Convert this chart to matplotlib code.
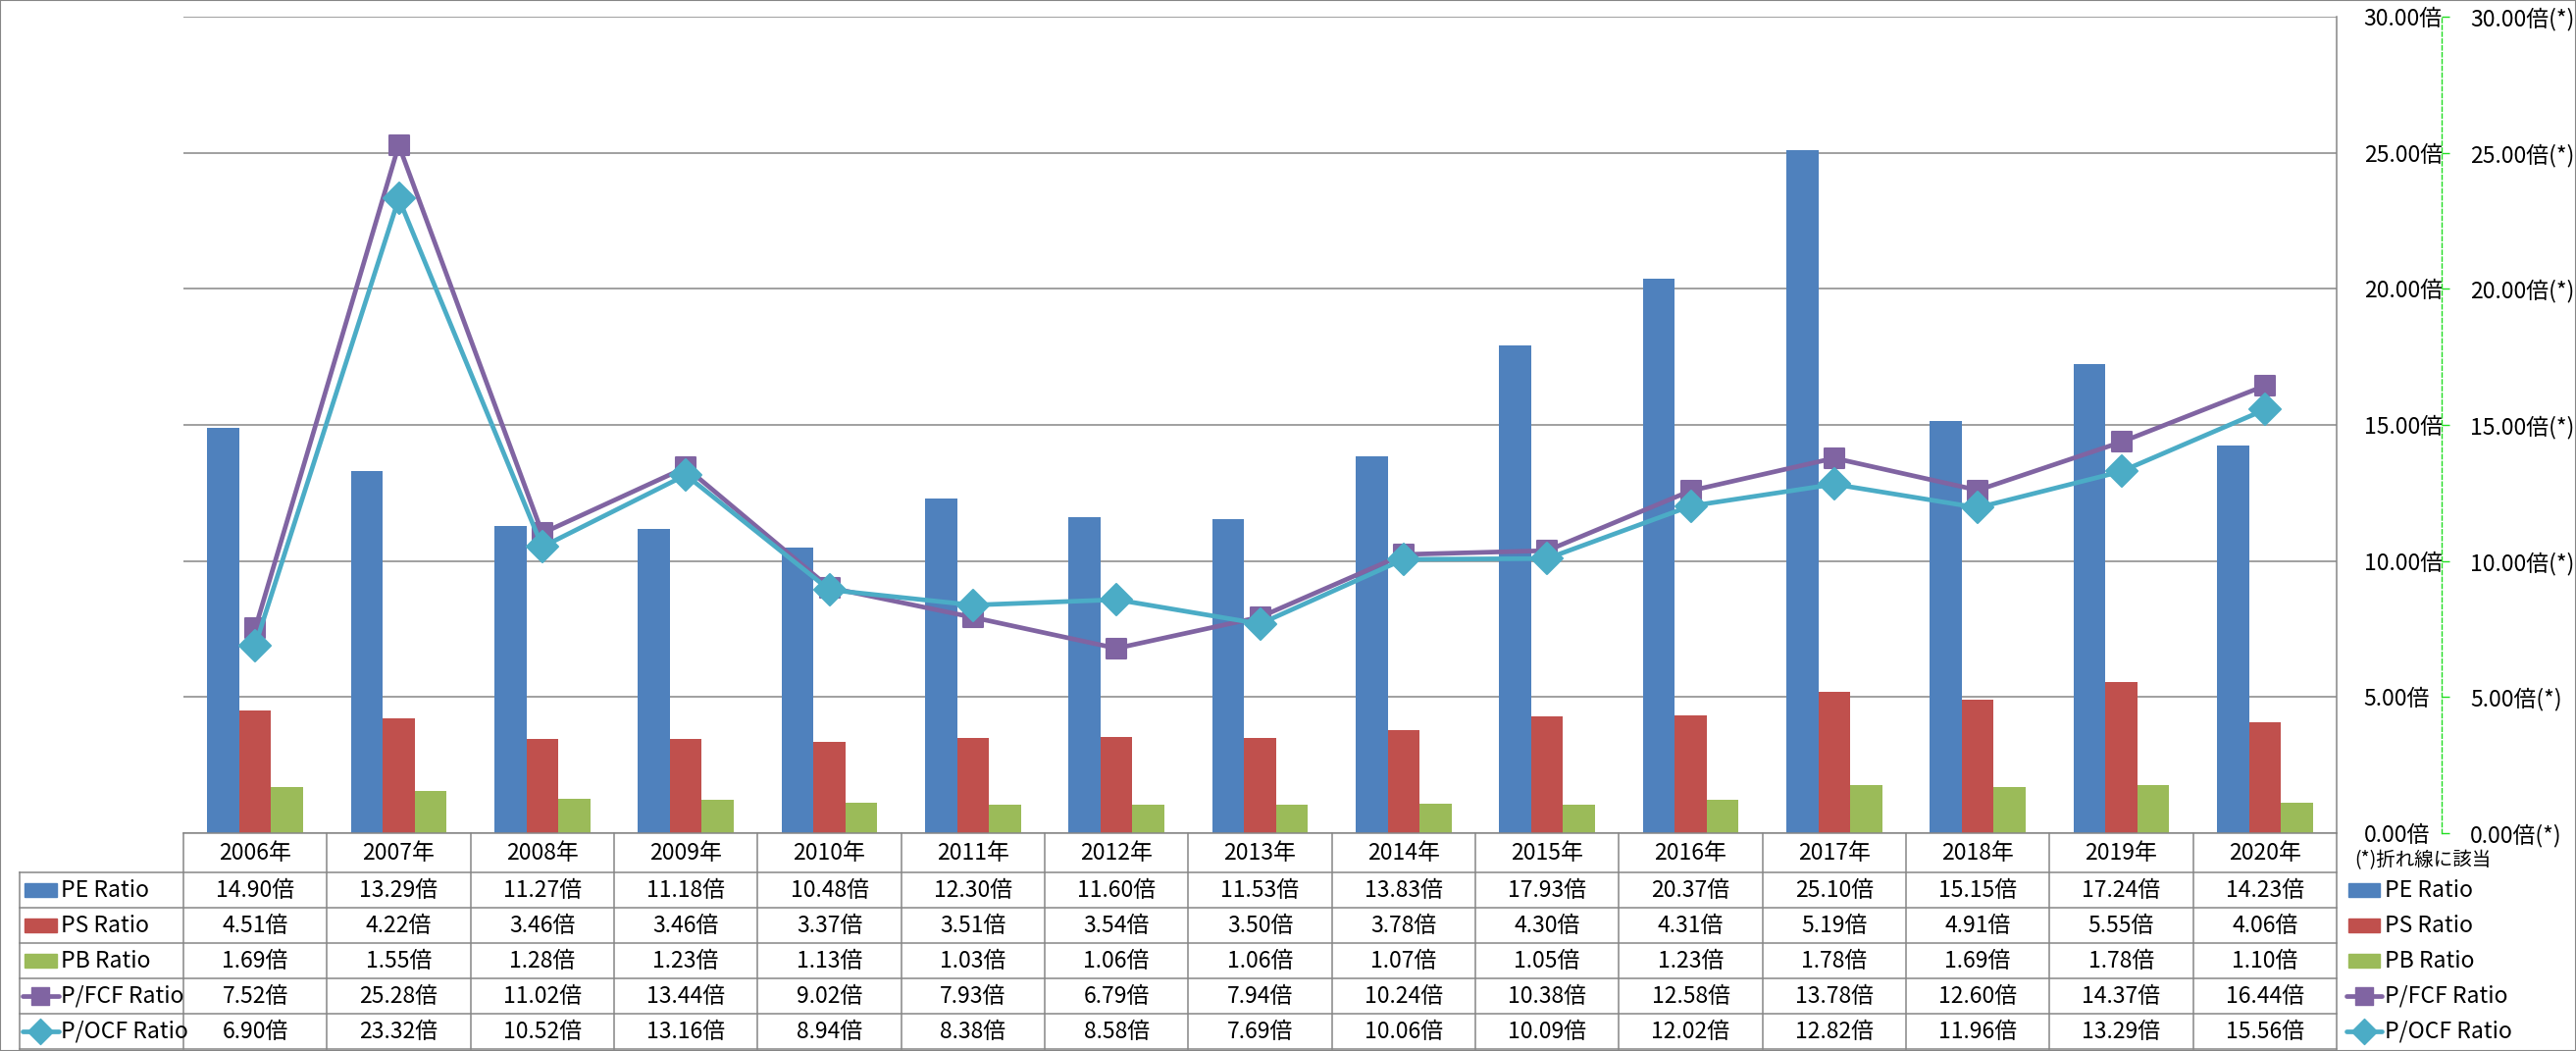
import matplotlib
matplotlib.use("Agg")
import matplotlib.pyplot as plt
from matplotlib.markers import MarkerStyle
from matplotlib.patches import Rectangle
from matplotlib.ticker import FuncFormatter, MultipleLocator

plt.rcParams['font.family'] = ['Noto Sans CJK JP', 'DejaVu Sans']

years = ["2006年", "2007年", "2008年", "2009年", "2010年", "2011年", "2012年", "2013年",
         "2014年", "2015年", "2016年", "2017年", "2018年", "2019年", "2020年"]
pe = [14.90, 13.29, 11.27, 11.18, 10.48, 12.30, 11.60, 11.53, 13.83, 17.93, 20.37, 25.10, 15.15, 17.24, 14.23]
ps = [4.51, 4.22, 3.46, 3.46, 3.37, 3.51, 3.54, 3.50, 3.78, 4.30, 4.31, 5.19, 4.91, 5.55, 4.06]
pb = [1.69, 1.55, 1.28, 1.23, 1.13, 1.03, 1.06, 1.06, 1.07, 1.05, 1.23, 1.78, 1.69, 1.78, 1.10]
pfcf = [7.52, 25.28, 11.02, 13.44, 9.02, 7.93, 6.79, 7.94, 10.24, 10.38, 12.58, 13.78, 12.60, 14.37, 16.44]
pocf = [6.90, 23.32, 10.52, 13.16, 8.94, 8.38, 8.58, 7.69, 10.06, 10.09, 12.02, 12.82, 11.96, 13.29, 15.56]

bar_series = [("PE Ratio", pe, "#4F81BD"), ("PS Ratio", ps, "#C0504D"), ("PB Ratio", pb, "#9BBB59")]
line_series = [("P/FCF Ratio", pfcf, "#8064A2", "s", 15), ("P/OCF Ratio", pocf, "#4BACC6", "D", 15)]

W, H = 2626, 1071
GRID = "#868686"
FS = 16.5

fig = plt.figure(figsize=(W / 100, H / 100), dpi=100)
fig.patches.append(Rectangle((0, 0), 1, 1, transform=fig.transFigure, fill=False,
                             edgecolor=GRID, lw=1.5))

ax = fig.add_axes([187 / W, (H - 849) / H, 2195 / W, 832 / H])
x = list(range(len(years)))
bw = 0.222
for k, (name, vals, col) in enumerate(bar_series):
    ax.bar([i + (k - 1) * bw for i in x], vals, width=bw, color=col, zorder=2)

ax2 = ax.twinx()
for name, vals, col, mk, ms in line_series:
    ax2.plot(x, vals, color=col, lw=3.4, marker=MarkerStyle(mk, joinstyle="round"),
             ms=ms if mk == "s" else ms + 1, mec=col, mew=1.5, zorder=3)

ax.set_xlim(-0.5, len(years) - 0.5)
ax.set_ylim(0, 30)
ax.yaxis.set_major_locator(MultipleLocator(5))
ax.yaxis.tick_right()
ax.yaxis.set_label_position("right")
ax.yaxis.set_major_formatter(FuncFormatter(lambda v, p: f"{v:.2f}倍"))
ax.tick_params(axis="y", length=0, pad=20, labelsize=FS)
ax.set_xticks([])
ax.grid(axis="y", color=GRID, lw=1.1, zorder=0)
for s in ["left", "top", "bottom"]:
    ax.spines[s].set_visible(False)
ax.spines["right"].set_color(GRID)
ax.spines["right"].set_linewidth(1.1)

ax2.set_ylim(0, 30)
ax2.yaxis.set_major_locator(MultipleLocator(5))
ax2.yaxis.set_major_formatter(FuncFormatter(lambda v, p: f"{v:.2f}倍(*)"))
ax2.spines["right"].set_position(("axes", 2302 / 2195))
ax2.spines["right"].set_color("#22DD22")
ax2.spines["right"].set_linestyle((0, (3, 2)))
ax2.spines["right"].set_linewidth(1)
for s in ["left", "top", "bottom"]:
    ax2.spines[s].set_visible(False)
ax2.tick_params(axis="y", direction="out", length=6, width=1, color="#22DD22",
                pad=15, labelsize=FS)

# data table below the plot
tax = fig.add_axes([187 / W, 0, 2195 / W, 222 / H])
tax.set_xlim(-0.5, len(years) - 0.5)
tax.set_ylim(H, 849)
tax.axis("off")

def px2x(px):
    return (px - 187) / 146.33 - 0.5

rows_y = [849, 889, 925, 961, 997, 1033, 1069]
tax.plot([-0.5, len(years) - 0.5], [849, 849], color=GRID, lw=1.1, clip_on=False)
for yy in rows_y[1:]:
    tax.plot([px2x(20), len(years) - 0.5], [yy, yy], color=GRID, lw=1.1, clip_on=False)
for i in range(len(years) + 1):
    tax.plot([i - 0.5, i - 0.5], [849, 1069], color=GRID, lw=1.1, clip_on=False)
tax.plot([px2x(20), px2x(20)], [889, 1069], color=GRID, lw=1.1, clip_on=False)

for i, yr in enumerate(years):
    tax.text(i, 869, yr, ha="center", va="center", fontsize=FS)

row_data = [(n, v, c, None, None) for n, v, c in bar_series] + list(line_series)
for r, (name, vals, col, mk, ms) in enumerate(row_data):
    yc = (rows_y[r + 1] + rows_y[r + 2]) / 2
    for i, v in enumerate(vals):
        tax.text(i, yc, f"{v:.2f}倍", ha="center", va="center", fontsize=FS)
    for (k0, k1, tx) in [(px2x(23), px2x(60), px2x(62)), (px2x(2392), px2x(2428), px2x(2431))]:
        if mk is None:
            tax.add_patch(Rectangle((k0 + 0.015, yc - 7), (k1 - k0) - 0.03, 14, color=col,
                                    clip_on=False))
        else:
            tax.plot([k0, k1], [yc, yc], color=col, lw=3.4, clip_on=False, solid_capstyle="round")
            tax.plot([(k0 + k1) / 2], [yc], color=col, marker=MarkerStyle(mk, joinstyle="round"),
                     ms=13, mec=col, clip_on=False)
        tax.text(tx, yc, name, ha="left", va="center", fontsize=FS)

tax.text(px2x(2400), 877, "(*)折れ線に該当", ha="left", va="center", fontsize=14)

fig.savefig("out.png", dpi=100)
